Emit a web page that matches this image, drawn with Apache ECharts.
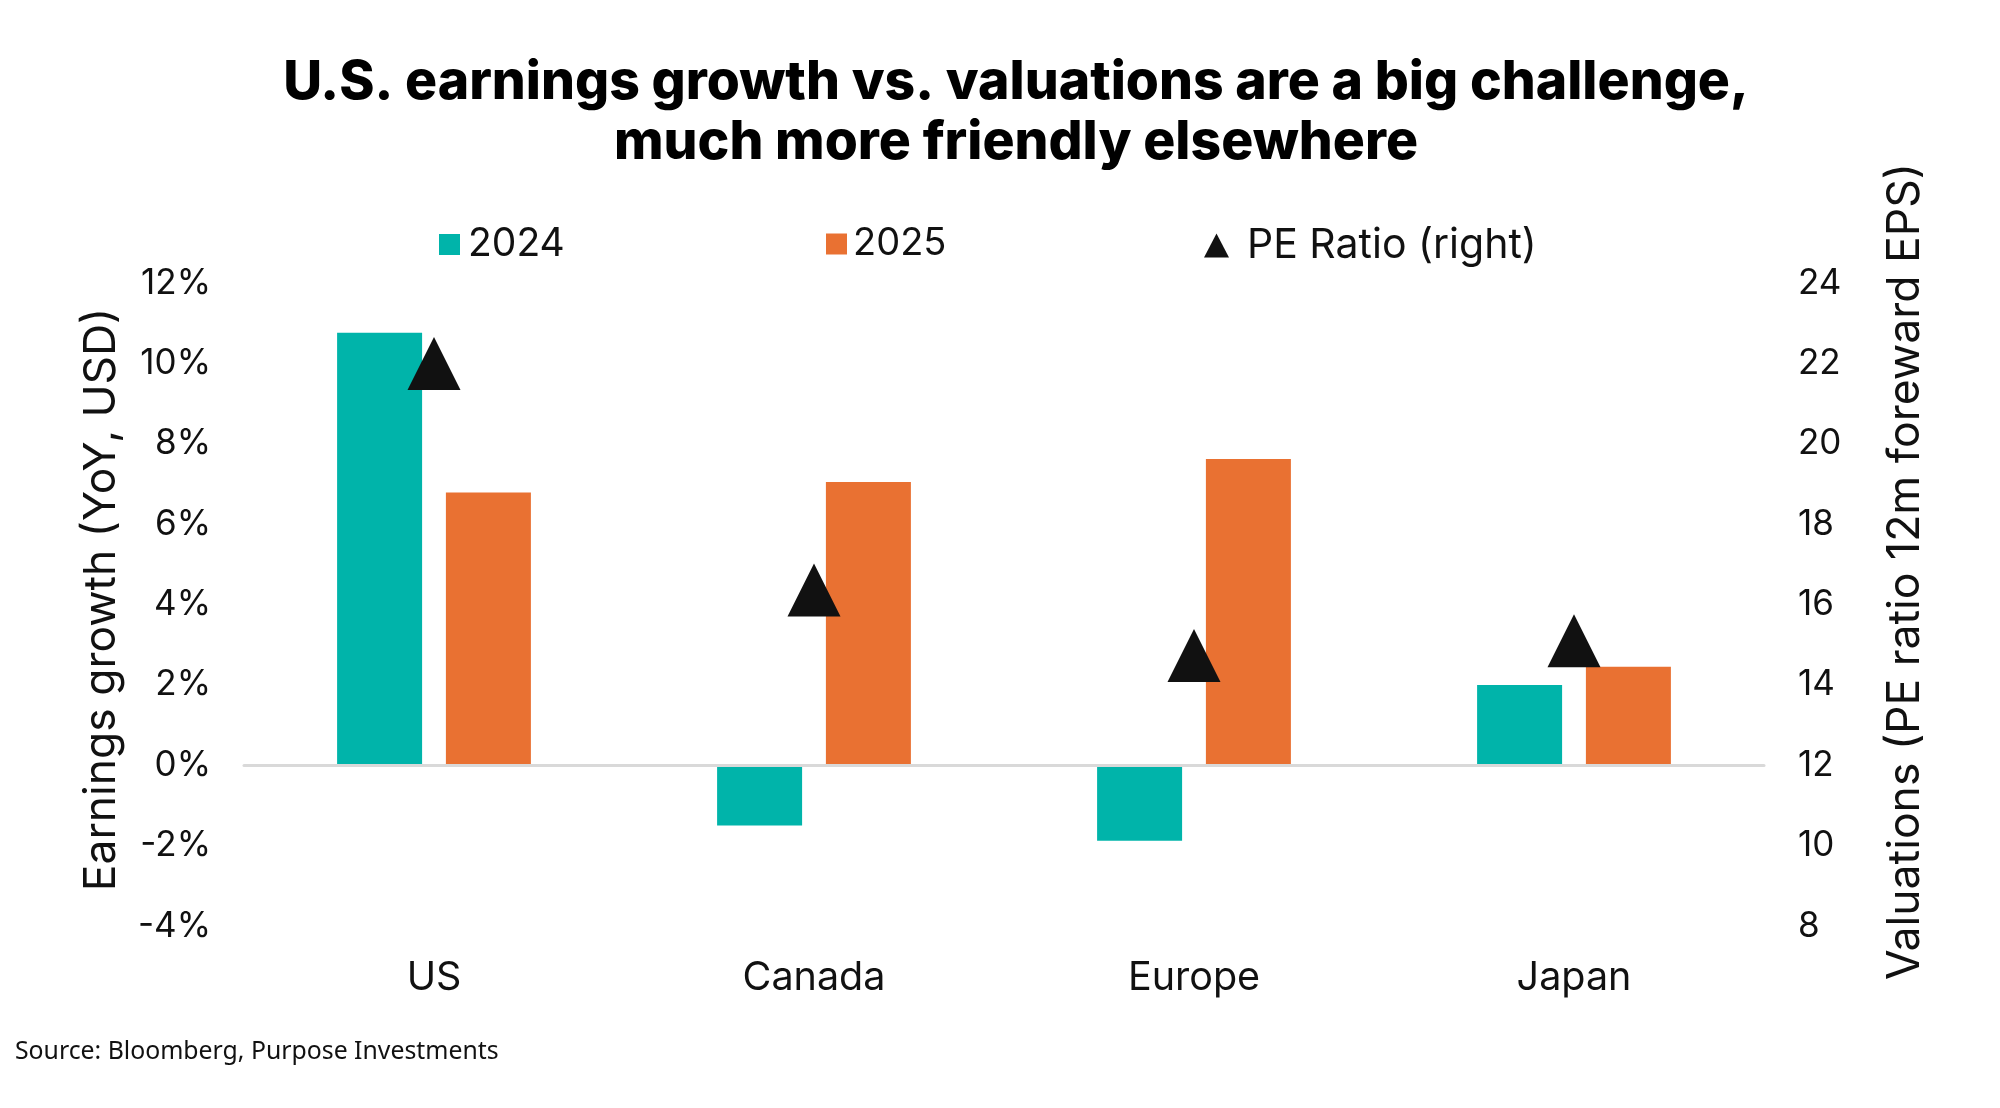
<!DOCTYPE html>
<html>
<head>
<meta charset="utf-8">
<style>
  html, body { margin: 0; padding: 0; background: #fff; }
  #chart { width: 2000px; height: 1108px; }
</style>
<script src="https://cdn.jsdelivr.net/npm/echarts@6/dist/echarts.min.js"></script>
</head>
<body>
<div id="chart"></div>
<script>
const regions = ['US', 'Canada', 'Europe', 'Japan'];
const growth2024 = [10.76, -1.5, -1.88, 2.0];
const growth2025 = [6.79, 7.05, 7.62, 2.45];
const peRatio = [22.0, 16.36, 14.73, 15.1];

const FONT = 'Inter';
const TEAL = '#00b4aa';
const ORANGE = '#e97132';
const INK = '#111111';

const axisText = { fontFamily: FONT, fontSize: 35, color: INK };

function legendAt(name, left, icon, iconW, iconH, textGap, fontSize) {
  return {
    data: [{ name: name, icon: icon }],
    left: left,
    top: 225,
    itemWidth: iconW,
    itemHeight: iconH,
    selectedMode: false,
    padding: 0,
    textStyle: { fontFamily: FONT, fontSize: fontSize, color: INK, padding: [0, 0, 0, textGap] }
  };
}

const chart = echarts.init(document.getElementById('chart'));
chart.setOption({
  animation: false,
  backgroundColor: '#ffffff',
  title: [{
    text: 'U.S. earnings growth vs. valuations are a big challenge,\nmuch more friendly elsewhere',
    left: 1011,
    top: 48,
    textAlign: 'center',
    textStyle: { fontFamily: FONT, fontSize: 53.5, fontWeight: 800, color: '#000', lineHeight: 60 }
  }, {
    text: 'Source: Bloomberg, Purpose Investments',
    left: 10,
    top: 1034,
    textStyle: { fontFamily: 'Noto Sans', fontSize: 24.8, fontWeight: 400, color: INK }
  }],
  legend: [
    legendAt('2024', 439, 'rect', 21, 21, 3, 39),
    legendAt('2025', 826, 'rect', 21, 21, 1, 38),
    legendAt('PE Ratio (right)', 1204, 'triangle', 25, 24, 13, 41)
  ],
  grid: { left: 244, right: 236, top: 283, height: 643 },
  xAxis: [{
    type: 'category',
    data: regions,
    position: 'bottom',
    axisLine: { show: false },
    axisTick: { show: false },
    axisLabel: { margin: 32, fontFamily: FONT, fontSize: 39.5, color: INK }
  }, {
    // second axis only draws the zero line, the labels stay at the bottom
    type: 'category',
    data: regions,
    z: 5,
    axisLine: { onZero: true, onZeroAxisIndex: 0, lineStyle: { color: '#d9d9d9', width: 3 } },
    axisTick: { show: false },
    axisLabel: { show: false }
  }],
  yAxis: [{
    type: 'value',
    min: -4,
    max: 12,
    interval: 2,
    name: 'Earnings growth (YoY, USD)',
    nameLocation: 'middle',
    nameGap: 120,
    nameRotate: 90,
    nameTextStyle: { fontFamily: FONT, fontSize: 44.4, color: INK, padding: [0, 0, 0, 10] },
    splitLine: { show: false },
    axisLine: { show: false },
    axisTick: { show: false },
    axisLabel: Object.assign({ margin: 33, formatter: '{value}%' }, axisText)
  }, {
    type: 'value',
    min: 8,
    max: 24,
    interval: 2,
    position: 'right',
    name: 'Valuations (PE ratio 12m foreward EPS)',
    nameLocation: 'middle',
    nameGap: 119,
    nameRotate: 90,
    nameTextStyle: { fontFamily: FONT, fontSize: 44.5, color: INK, padding: [0, 0, 0, 66] },
    splitLine: { show: false },
    axisLine: { show: false },
    axisTick: { show: false },
    axisLabel: Object.assign({ margin: 34 }, axisText)
  }],
  series: [{
    name: '2024',
    type: 'bar',
    data: growth2024,
    barWidth: 85,
    barGap: '28%',
    itemStyle: { color: TEAL }
  }, {
    name: '2025',
    type: 'bar',
    data: growth2025,
    barWidth: 85,
    barGap: '28%',
    itemStyle: { color: ORANGE }
  }, {
    name: 'PE Ratio (right)',
    type: 'scatter',
    yAxisIndex: 1,
    data: peRatio,
    symbol: 'triangle',
    symbolSize: [53, 53],
    itemStyle: { color: INK, opacity: 1 },
    z: 4
  }]
});
</script>
</body>
</html>
